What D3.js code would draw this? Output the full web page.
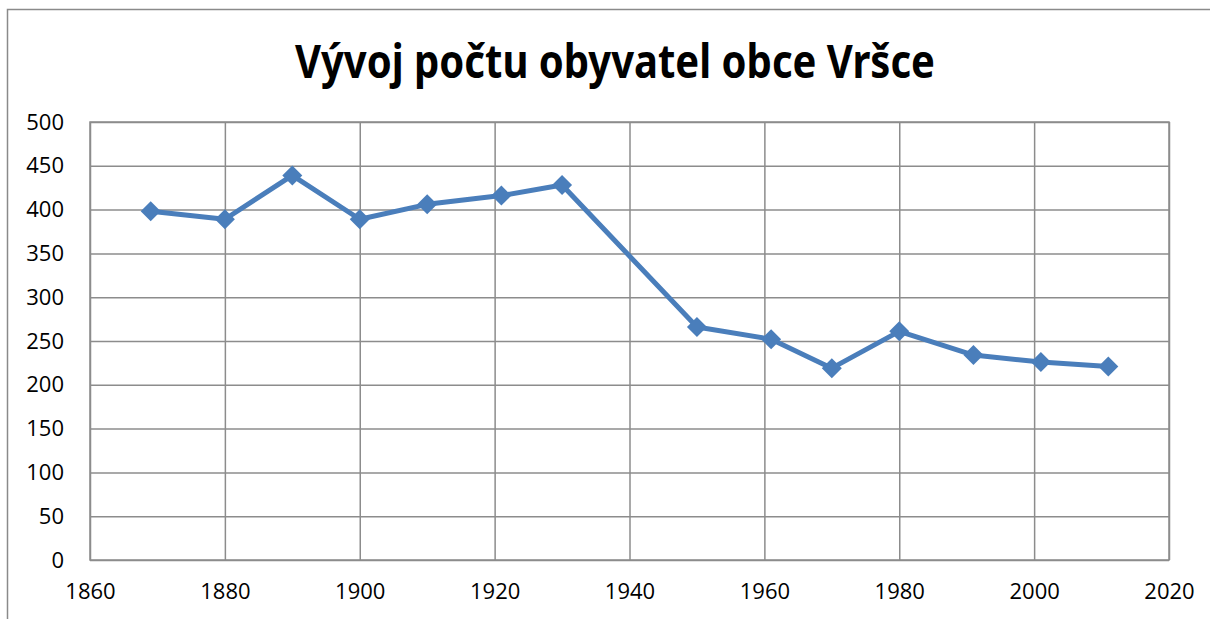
<!DOCTYPE html>
<html>
<head>
<meta charset="utf-8">
<script src="https://cdn.jsdelivr.net/npm/d3@7"></script>
<style>
  body { margin: 0; background: #fff; }
  svg { display: block; }
  .tick text { font-family: "Open Sans", "Noto Sans", sans-serif; font-size: 22px; fill: #000; }
</style>
</head>
<body>
<div id="chart"></div>
<script>
// census years and population of Vršce
var years = [1869, 1880, 1890, 1900, 1910, 1921, 1930, 1950, 1961, 1970, 1980, 1991, 2001, 2011];
var population = [398, 389, 439, 389, 406, 416, 428, 266, 252, 219, 261, 234, 226, 221];
var xTicks = [1860, 1880, 1900, 1920, 1940, 1960, 1980, 2000, 2020];
var yTicks = [0, 50, 100, 150, 200, 250, 300, 350, 400, 450, 500];
var title = "Vývoj počtu obyvatel obce Vršce";

var width = 1210, height = 619;
var margin = {top: 122, right: 41, bottom: 59, left: 90};
var innerW = width - margin.left - margin.right;
var innerH = height - margin.top - margin.bottom;

var svg = d3.select("#chart")
  .append("svg")
    .attr("width", width)
    .attr("height", height);

// outer chart frame (cut off at right and bottom)
svg.append("path")
  .attr("d", "M7.5," + height + "V9.5H" + width)
  .attr("fill", "none")
  .attr("stroke", "#8a8a8a")
  .attr("stroke-width", 1.5);

svg.append("text")
  .attr("x", 615)
  .attr("y", 78)
  .attr("text-anchor", "middle")
  .attr("textLength", 640)
  .attr("lengthAdjust", "spacingAndGlyphs")
  .style("font-family", "'Noto Sans', 'Open Sans', sans-serif")
  .style("font-weight", "bold")
  .style("font-size", "46px")
  .text(title);

var g = svg.append("g")
  .attr("transform", "translate(" + margin.left + "," + margin.top + ")");

var x = d3.scaleLinear().domain([1860, 2020]).range([0, innerW]);
var y = d3.scaleLinear().domain([0, 500]).range([innerH, 0]);

// gridlines
g.append("g")
  .attr("class", "grid")
  .call(d3.axisLeft(y).tickValues(yTicks).tickSize(-innerW).tickFormat(""))
  .call(function(s) { s.select(".domain").remove(); });
g.append("g")
  .attr("class", "grid")
  .attr("transform", "translate(0," + innerH + ")")
  .call(d3.axisBottom(x).tickValues(xTicks).tickSize(-innerH).tickFormat(""))
  .call(function(s) { s.select(".domain").remove(); });
g.selectAll(".grid line")
  .attr("stroke", "#8c8c8c")
  .attr("stroke-width", 1.5);

g.append("rect")
  .attr("width", innerW)
  .attr("height", innerH)
  .attr("fill", "none")
  .attr("stroke", "#8c8c8c")
  .attr("stroke-width", 1.5);

// axis labels
g.append("g")
  .attr("transform", "translate(-26,0)")
  .call(d3.axisLeft(y).tickValues(yTicks).tickSize(0).tickPadding(0))
  .call(function(s) { s.select(".domain").remove(); });
g.append("g")
  .attr("transform", "translate(0," + innerH + ")")
  .call(d3.axisBottom(x).tickValues(xTicks).tickSize(0).tickPadding(23).tickFormat(d3.format("d")))
  .call(function(s) { s.select(".domain").remove(); });

// series
var data = years.map(function(yr, i) { return {year: yr, value: population[i]}; });

g.append("path")
  .datum(data)
  .attr("fill", "none")
  .attr("stroke", "#4a7ebb")
  .attr("stroke-width", 5)
  .attr("stroke-linejoin", "round")
  .attr("d", d3.line()
    .x(function(d) { return x(d.year); })
    .y(function(d) { return y(d.value); }));

g.selectAll(".marker")
  .data(data)
  .enter().append("path")
    .attr("class", "marker")
    .attr("fill", "#4a7ebb")
    .attr("transform", function(d) { return "translate(" + x(d.year) + "," + y(d.value) + ")"; })
    .attr("d", "M0,-10L10,0L0,10L-10,0Z");
</script>
</body>
</html>
